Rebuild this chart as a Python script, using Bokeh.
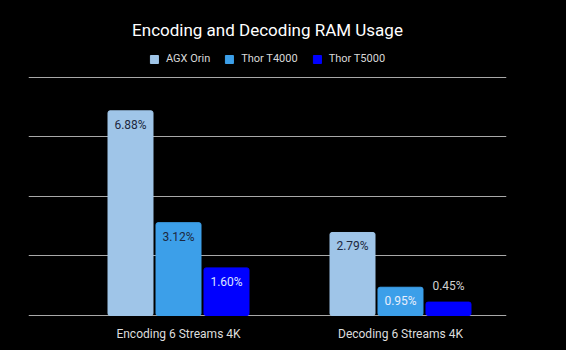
from bokeh.plotting import figure
from bokeh.models import ColumnDataSource, FixedTicker, Legend, LegendItem
from bokeh.core.properties import value
from bokeh.embed import file_html
from bokeh.resources import INLINE

categories = ["Encoding 6 Streams 4K", "Decoding 6 Streams 4K"]
series = ["AGX Orin", "Thor T4000", "Thor T5000"]
agx_orin = [6.88, 2.79]
thor_t4000 = [3.12, 0.95]
thor_t5000 = [1.60, 0.45]
y_ticks = [0, 2, 4, 6, 8]

colors = ["#9fc5e8", "#3c9fe9", "#0000ff"]
# label text colour per (series, category)
label_colors = [["#1d2840", "#1d2840"], ["#1d2840", "#e8eefc"], ["#dce6ff", "#d0d0d0"]]

FONT = "Roboto"

p = figure(width=566, height=350, output_backend="svg", toolbar_location=None,
           x_range=(-0.6757, 1.4775), y_range=(-0.1008, 9.109),
           outline_line_color=None, background_fill_color="black",
           border_fill_color="black",
           min_border_left=28, min_border_right=60, min_border_top=44, min_border_bottom=32)
p.styles = {"background-color": "black"}

p.title.text = "Encoding and Decoding RAM Usage"
p.title.text_color = "white"
p.title.text_font = FONT
p.title.text_font_size = "17px"
p.title.text_font_style = "normal"
p.title.align = "center"

p.yaxis.visible = False
p.xaxis.ticker = FixedTicker(ticks=list(range(len(categories))))
p.xaxis.major_label_overrides = {i: c for i, c in enumerate(categories)}
p.xaxis.axis_line_color = None
p.xaxis.major_tick_line_color = None
p.xaxis.minor_tick_line_color = None
p.xaxis.major_label_text_color = "#dddddd"
p.xaxis.major_label_text_font = FONT
p.xaxis.major_label_text_font_size = "12px"
p.xaxis.major_label_standoff = 2

p.xgrid.visible = False
p.ygrid.ticker = FixedTicker(ticks=y_ticks)
p.ygrid.grid_line_color = "#a8a8a8"
p.ygrid.grid_line_width = 1

step = 0.2162
bw = 0.2027
items = []
for si, (name, vals) in enumerate(zip(series, [agx_orin, thor_t4000, thor_t5000])):
    xs = [ci + (si - 1) * step for ci in range(len(categories))]
    src = ColumnDataSource(dict(x=xs, top=vals))
    r = p.vbar(x="x", top="top", width=bw, bottom=0, source=src,
               fill_color=colors[si], line_color=colors[si], border_radius=2)
    items.append(LegendItem(label=name, renderers=[r]))
    inside = [v > 0.8 for v in vals]
    lsrc = ColumnDataSource(dict(
        x=xs, y=vals,
        text=["%.2f%%" % v for v in vals],
        yoff=[7 if ins else -9 for ins in inside],
        base=["top" if ins else "bottom" for ins in inside],
        col=label_colors[si],
    ))
    p.text(x="x", y="y", text="text", source=lsrc, y_offset="yoff",
           text_baseline="base", text_align="center", text_color="col",
           text_font=value(FONT), text_font_size="12px")

legend = Legend(items=items, orientation="horizontal", location="top_center",
                background_fill_alpha=0, border_line_color=None,
                label_text_color="#d8d8d8", label_text_font=FONT,
                label_text_font_size="11px", glyph_width=10, glyph_height=10,
                spacing=14, label_standoff=7, padding=0, margin=8)
p.add_layout(legend)

open("out.html", "w").write(file_html(p, INLINE))
